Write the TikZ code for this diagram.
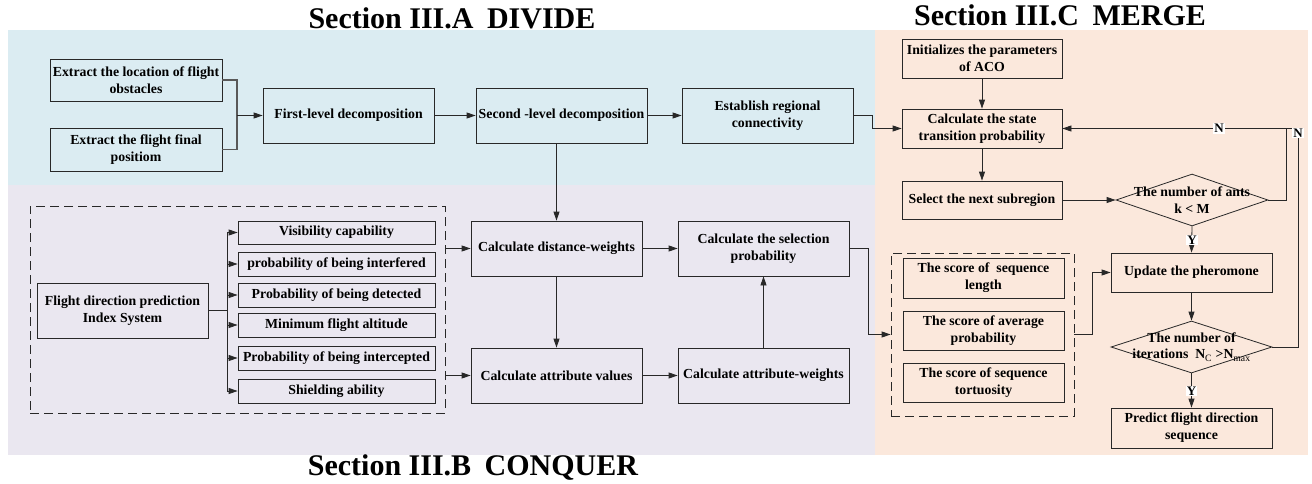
\documentclass[tikz,border=0pt]{standalone}
\usepackage{fontspec}
\setmainfont{Liberation Serif}
\usetikzlibrary{arrows.meta,shapes.geometric}
\definecolor{bgblue}{RGB}{219,236,242}
\definecolor{bglav}{RGB}{234,231,240}
\definecolor{bgorange}{RGB}{251,232,220}
\definecolor{edge}{RGB}{40,40,40}
\begin{document}
\begin{tikzpicture}[x=1pt,y=-1pt,
  box/.style={draw=edge, line width=0.8pt, align=center, inner sep=1pt,
    font=\bfseries\fontsize{13.8}{17}\selectfont, text=black},
  bigbox/.style={box, minimum width=171pt, minimum height=55pt},
  idxbox/.style={box, minimum width=197pt, minimum height=24pt},
  acobox/.style={box, minimum width=160pt, minimum height=39pt},
  dashbox/.style={draw=edge, line width=0.8pt, dash pattern=on 9pt off 5pt, inner sep=0pt},
  dia/.style={draw=edge, line width=0.8pt, diamond, inner sep=0pt},
  dlabel/.style={align=center, font=\bfseries\fontsize{13.8}{16.5}\selectfont},
  yn/.style={fill=white, inner sep=1pt, font=\bfseries\fontsize{13}{13}\selectfont},
  title/.style={anchor=base, font=\bfseries\fontsize{30}{32}\selectfont},
  line/.style={draw=edge, line width=0.8pt},
  arr/.style={line, -{Triangle[length=9pt,width=6pt]}},
]
\useasboundingbox (0,0) rectangle (1312,483);
% backgrounds
\fill[bgblue] (8,30) rectangle (875,185);
\fill[bglav] (8,185) rectangle (875,455);
\fill[bgorange] (875,30) rectangle (1308,455);

% titles
\node[title] (tA) at (452,28) {Section III.A\hspace{0.45em}DIVIDE};
\node[title] (tC) at (1060,25) {Section III.C\hspace{0.45em}MERGE};
\node[title] (tB) at (473,475) {Section III.B\hspace{0.45em}CONQUER};

% DIVIDE
\node[box, minimum width=172pt, minimum height=42pt] (ex1) at (136,80) {Extract the location of flight\\obstacles};
\node[box, minimum width=172pt, minimum height=43pt] (ex2) at (136,149.5) {Extract the flight final\\positiom};
\node[bigbox] (fl) at (348.5,115.5) {First-level decomposition};
\node[bigbox] (sl) at (561.5,115.5) {Second -level decomposition};
\node[bigbox] (ec) at (767.5,115.5) {Establish regional\\connectivity};

% CONQUER
\node[dashbox, minimum width=415pt, minimum height=207pt] (grp) at (237.5,309.5) {};
\node[bigbox] (fd) at (122.5,310.5) {Flight direction prediction\\Index System};
\node[idxbox, minimum height=23pt] (i1) at (336.5,232.5) {Visibility capability};
\node[idxbox] (i2) at (336.5,264) {probability of being interfered};
\node[idxbox] (i3) at (336.5,295) {Probability of being detected};
\node[idxbox] (i4) at (336.5,325) {Minimum flight altitude};
\node[idxbox] (i5) at (336.5,358) {Probability of being intercepted};
\node[idxbox] (i6) at (336.5,391) {Shielding ability};
\node[bigbox] (cd) at (556.5,248.5) {Calculate distance-weights};
\node[bigbox] (av) at (556.5,375.5) {Calculate attribute values};
\node[bigbox] (sp) at (763.5,248.5) {Calculate the selection\\probability};
\node[bigbox] (aw) at (763.5,375.5) {Calculate attribute-weights};

% MERGE
\node[acobox] (init) at (982,58.5) {Initializes the parameters\\of ACO};
\node[acobox] (cs) at (982,128.5) {Calculate the state\\transition probability};
\node[acobox, minimum height=38pt] (sn) at (982,200) {Select the next subregion};
\node[dia, minimum width=152pt, minimum height=52pt,
  label={[dlabel]center:The number of ants\\k < M}] (d1) at (1192,200) {};
\node[box, minimum width=161pt, minimum height=39pt] (up) at (1191.5,272.5) {Update the pheromone};
\node[dia, minimum width=161pt, minimum height=52pt,
  label={[dlabel]center:The number of\\iterations~~N\textsubscript{\mdseries C} >N\textsubscript{\mdseries max}}] (d2) at (1191.5,347) {};
\node[box, minimum width=161pt, minimum height=40pt] (pr) at (1191.5,428) {Predict flight direction\\sequence};
\node[dashbox, minimum width=183pt, minimum height=163pt] (sg) at (982.5,334.5) {};
\node[box, minimum width=161pt, minimum height=40pt] (s1) at (983.5,278) {The score of~ sequence\\length};
\node[box, minimum width=161pt, minimum height=39pt] (s2) at (983.5,330.5) {The score of average\\probability};
\node[box, minimum width=161pt, minimum height=39pt] (s3) at (983.5,382.5) {The score of sequence\\tortuosity};

% helper coordinates
\coordinate (j1) at (237,115.5);
\coordinate (j2) at (872,128.5);
\coordinate (tr) at (227,310.5);
\coordinate (lp1) at (1286,128.5);
\coordinate (lp2) at (1298,128.5);
\coordinate (jsp) at (868,248.5);
\coordinate (jsc) at (1092,334.5);

% DIVIDE connectors
\draw[line, line width=1.2pt, draw=black!65] (ex1.east) -| (j1);
\draw[line, line width=1.2pt, draw=black!65] (ex2.east) -| (j1);
\draw[arr] (j1) -- (fl.west);
\draw[arr] (fl) -- (sl);
\draw[arr] (sl) -- (ec);
\draw[arr] (ec.east) -| (j2) -- (cs.west);

% CONQUER connectors
\draw[line, line width=1.2pt] (fd.east) -- (tr);
\draw[line] (tr |- i1.west) -- (tr |- i6.west);
\foreach \b in {i1,i2,i3,i4,i5,i6}{
  \draw[arr] (tr |- \b.west) -- (\b.west);
}
\draw[arr] (sl.south -| cd.north) -- (cd.north);
\draw[arr] (grp.east |- cd.west) -- (cd.west);
\draw[arr] (grp.east |- av.west) -- (av.west);
\draw[arr] (cd) -- (sp);
\draw[arr] (cd) -- (av);
\draw[arr] (av) -- (aw);
\draw[arr] (aw) -- (sp);
\draw[arr] (sp.east) -- (jsp) |- (sg.west);

% MERGE connectors
\draw[arr] (init) -- (cs);
\draw[arr] (cs) -- (sn);
\draw[arr] (sn) -- (d1);
\draw[arr] (d1.east) -| (lp1) -- (cs.east);
\node[yn] (n1) at (1219,128.5) {N};
\draw[arr] (d1.south) -- (up.north);
\node[yn] (y1) at (1192,240) {Y};
\draw[arr] (up) -- (d2);
\draw[line] (d2.east) -| (lp2) -- (lp1);
\node[yn] (n2) at (1298,133) {N};
\draw[arr] (d2.south) -- (pr.north);
\node[yn] (y2) at (1191.5,391) {Y};
\draw[arr] (sg.east |- jsc) -- (jsc) |- (up.west);
\end{tikzpicture}
\end{document}
